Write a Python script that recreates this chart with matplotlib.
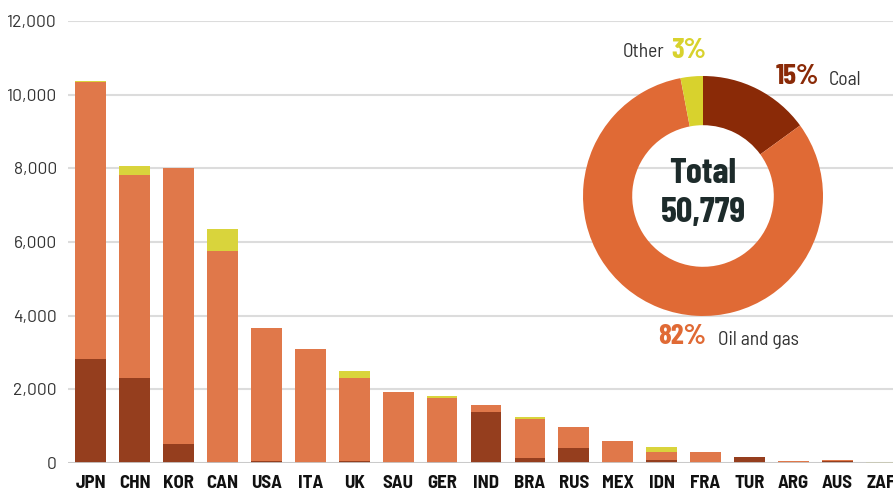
import numpy as np
import matplotlib.pyplot as plt

# ---- data ----
countries = ["JPN", "CHN", "KOR", "CAN", "USA", "ITA", "UK", "SAU", "GER", "IND",
             "BRA", "RUS", "MEX", "IDN", "FRA", "TUR", "ARG", "AUS", "ZAF"]
coal = [2820, 2300, 510, 30, 50, 0, 50, 0, 25, 1385, 130, 400, 0, 80, 0, 165, 0, 60, 0]
oil_gas = [7520, 5515, 7495, 5720, 3610, 3095, 2255, 1925, 1740, 190, 1065, 575, 600, 220, 300, 0, 50, 20, 0]
other = [20, 245, 0, 600, 0, 0, 195, 0, 55, 0, 55, 0, 0, 135, 0, 0, 0, 0, 30]

shares = [15, 82, 3]          # coal, oil and gas, other (%)
total = "50,779"

C_COAL, C_OIL, C_OTHER = "#8a2a07", "#e06a35", "#d8d22d"
C_COAL_BAR, C_OIL_BAR, C_OTHER_BAR = "#953e1e", "#e0784a", "#d9d43c"

cond = ["Barlow Condensed", "DejaVu Sans"]
semi = ["Barlow Semi Condensed", "DejaVu Sans"]
reg = ["Barlow", "DejaVu Sans"]

fig = plt.figure(figsize=(8.93, 4.91), dpi=100)
ax = fig.add_axes([68 / 893, 28 / 491, 825 / 893, 442 / 491])

x = np.arange(len(countries))
coal = np.array(coal); oil_gas = np.array(oil_gas); other = np.array(other)
w = 0.7
ax.bar(x, coal, w, color=C_COAL_BAR, zorder=3)
ax.bar(x, oil_gas, w, bottom=coal, color=C_OIL_BAR, zorder=3)
ax.bar(x, other, w, bottom=coal + oil_gas, color=C_OTHER_BAR, zorder=3)

ax.set_ylim(0, 12000)
ax.set_xlim(-0.52, 18.27)
ax.set_yticks(range(0, 12001, 2000))
ax.set_yticklabels([f"{v:,}" for v in range(0, 12001, 2000)],
                   fontsize=12.5, color="#333333", family=reg)
ax.set_xticks(x)
ax.set_xticklabels(countries, fontsize=13.5, fontweight="bold", family=semi,
                   color="#111111")
ax.tick_params(length=0)
ax.tick_params(axis="y", pad=8)
ax.tick_params(axis="x", pad=9)
ax.grid(axis="y", color="#dcdcdc", lw=1.5, zorder=0)
ax.axhline(0, color="#c8c8c8", lw=2, zorder=4)
for s in ax.spines.values():
    s.set_visible(False)

# ---- donut ----
pax = fig.add_axes([583 / 893, 175 / 491, 240 / 893, 240 / 491])
pax.pie(shares, colors=[C_COAL, C_OIL, C_OTHER], startangle=90, counterclock=False,
        radius=1, wedgeprops=dict(width=0.41, edgecolor="none"))
pax.set_xlim(-1, 1); pax.set_ylim(-1, 1)
pax.set_aspect("equal")
pax.axis("off")
pax.text(0, 0.18, "Total", ha="center", va="center", fontsize=26,
         fontweight="bold", color="#1d2b2b", family=cond)
pax.text(0, -0.14, total, ha="center", va="center", fontsize=26,
         fontweight="bold", color="#1d2b2b", family=cond)

fy = lambda py: 1 - py / 491
fx = lambda px: px / 893
fig.text(fx(664), fy(52), "Other", ha="right", va="center", fontsize=14,
         color="#333333", family=semi)
fig.text(fx(671), fy(51), f"{shares[2]}%", ha="left", va="center", fontsize=21,
         fontweight="bold", color=C_OTHER, family=cond)
fig.text(fx(776), fy(77), f"{shares[0]}%", ha="left", va="center", fontsize=21,
         fontweight="bold", color=C_COAL, family=cond)
fig.text(fx(829), fy(80), "Coal", ha="left", va="center", fontsize=14,
         color="#333333", family=semi)
fig.text(fx(658), fy(337), f"{shares[1]}%", ha="left", va="center", fontsize=21,
         fontweight="bold", color=C_OIL, family=cond)
fig.text(fx(718), fy(340), "Oil and gas", ha="left", va="center", fontsize=14,
         color="#333333", family=semi)

fig.savefig("out.png", dpi=100)
